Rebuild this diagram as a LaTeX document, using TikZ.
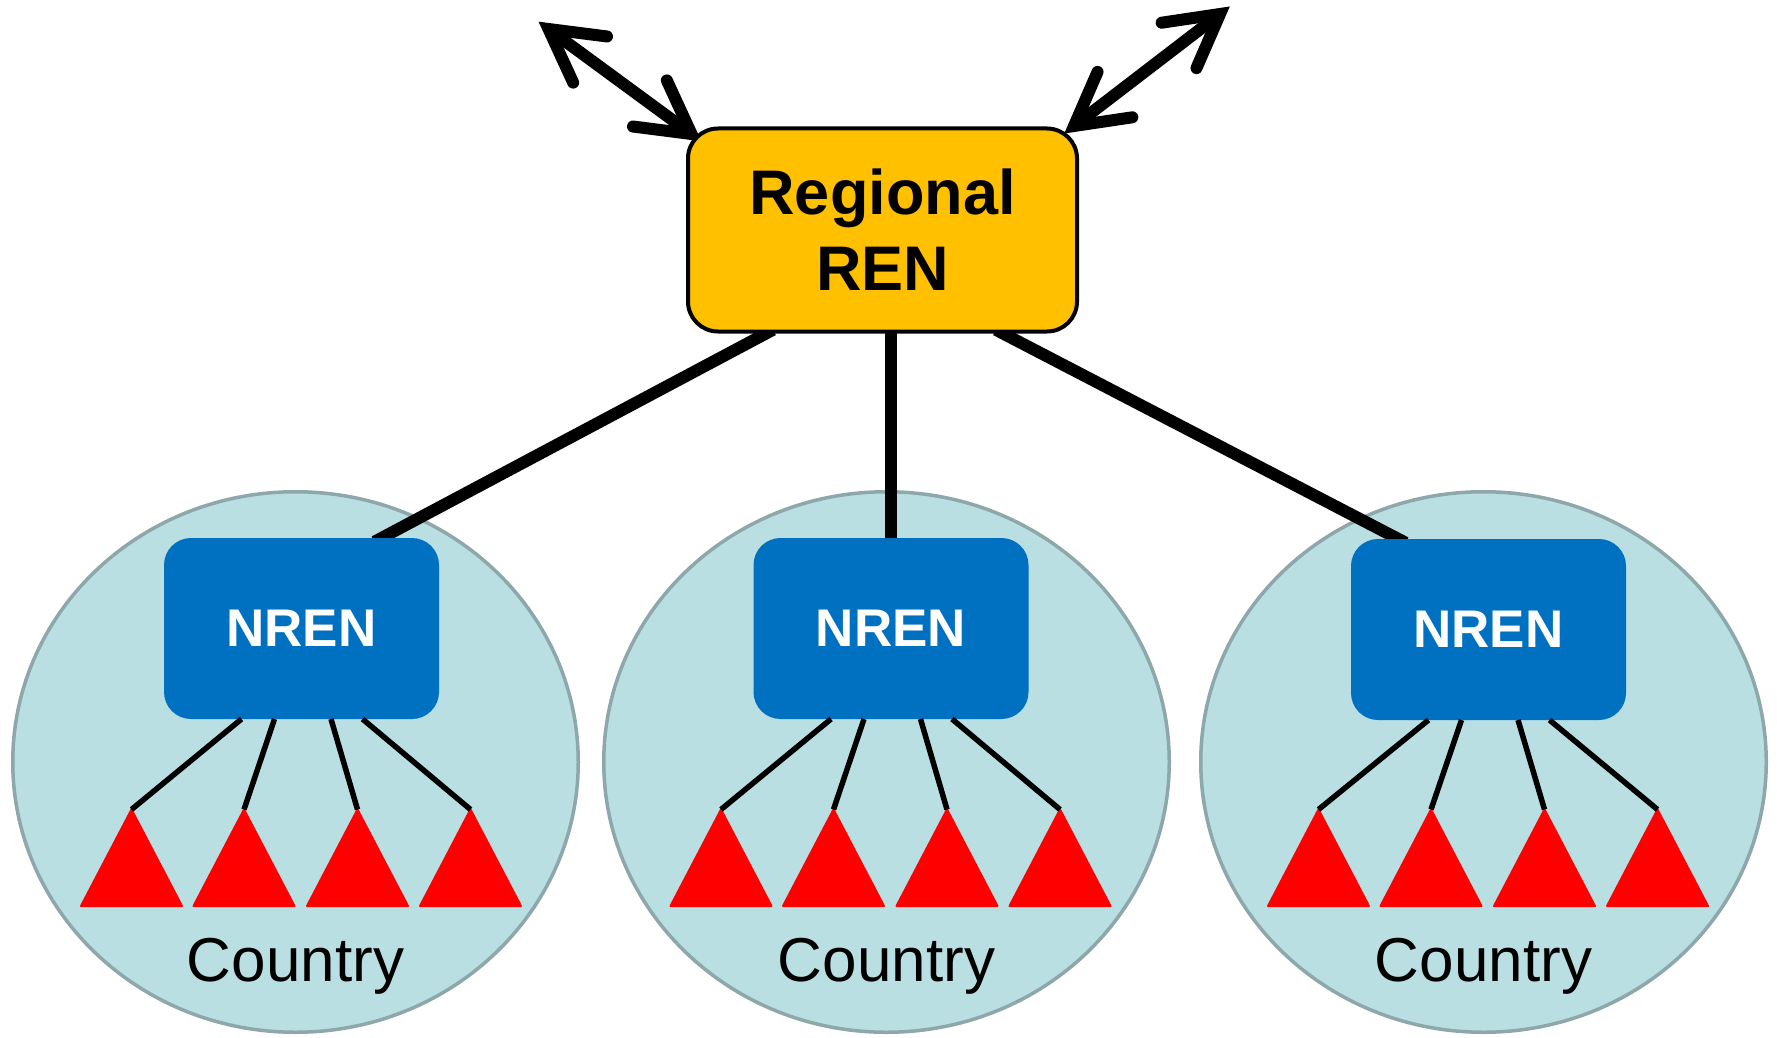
\documentclass[tikz,border=0pt]{standalone}
\usepackage{fontspec}
\setmainfont{Liberation Sans}
\usetikzlibrary{calc,shapes.geometric}
\pgfdeclarelayer{bg}
\pgfsetlayers{bg,main}
\definecolor{regfill}{HTML}{FFC000}
\definecolor{nrenfill}{HTML}{0070C0}
\definecolor{ctyfill}{HTML}{BADFE3}
\definecolor{ctyline}{HTML}{8DA7AA}
\definecolor{trired}{HTML}{FF0000}
\begin{document}
\begin{tikzpicture}[x=1pt,y=-1pt,
  regbox/.style={draw=black, line width=4pt, fill=regfill, rounded corners=30pt,
    minimum width=389pt, minimum height=203pt, inner sep=0pt, align=center,
    font=\fontsize{63}{76}\selectfont\bfseries},
  nrenbox/.style={fill=nrenfill, rounded corners=27pt, minimum width=275pt,
    minimum height=181pt, inner sep=0pt, outer sep=0pt, text=white,
    font=\fontsize{53}{60}\selectfont\bfseries},
  countryshape/.style={ellipse, draw=ctyline, line width=3.5pt, fill=ctyfill,
    minimum width=565.5pt, minimum height=540.5pt, inner sep=0pt},
  countrytext/.style={anchor=base, font=\fontsize{62}{70}\selectfont},
  trunk/.style={line width=12pt, shorten <=-8pt, shorten >=-8pt},
  branch/.style={line width=5.5pt},
  tripath/.style={fill=trired, draw=trired, line width=2pt, line join=round},
  shaft/.style={line width=12pt},
  barbs/.style={line width=12pt, line cap=round, line join=miter}
]
\useasboundingbox (0,0) rectangle (1777,1038);

% external links (drawn first so the box covers the lower tips)
\coordinate (la1) at (548.5,29);
\coordinate (la2) at (691.5,134);
\coordinate (ra1) at (1220,14);
\coordinate (ra2) at (1074,126);
\draw[shaft] (la1) -- (la2);
\draw[barbs] ($(la1)!59pt!29:(la2)$) -- (la1) -- ($(la1)!59pt!-29:(la2)$);
\draw[barbs] ($(la2)!59pt!29:(la1)$) -- (la2) -- ($(la2)!59pt!-29:(la1)$);
\draw[shaft] (ra1) -- (ra2);
\draw[barbs] ($(ra1)!59pt!29:(ra2)$) -- (ra1) -- ($(ra1)!59pt!-29:(ra2)$);
\draw[barbs] ($(ra2)!59pt!29:(ra1)$) -- (ra2) -- ($(ra2)!59pt!-29:(ra1)$);

% regional box
\node[regbox] (reg) at (882.5,230) {Regional\\REN};

\foreach \cx/\ex/\cy/\nm in {301.5/295.5/628.5/a, 891/886.5/628.5/b, 1488.5/1483.5/629.5/c}{
  \begin{pgfonlayer}{bg}
    \node[countryshape] (e\nm) at (\ex,762) {};
  \end{pgfonlayer}
  \node[nrenbox] (n\nm) at (\cx,\cy) {NREN};
  \node[countrytext] (ct\nm) at (\ex,981) {Country};
  \foreach \off/\ax/\i in {-170/-60/1, -57.5/-27/2, 56/29.5/3, 169/61/4}{
    \coordinate (t\nm\i) at (\cx+\off,809.5);
    \fill[tripath] (t\nm\i) -- ++(-50.5,96.5) -- ++(101,0) -- cycle;
    \draw[branch] ($(n\nm.south)+(\ax,0)$) -- (t\nm\i);
  }
}

% trunks beneath the boxes
\begin{pgfonlayer}{bg}
  \draw[trunk] ($(reg.south west)+(80,0)$) -- ($(na.north)+(80,0)$);
  \draw[trunk] (nb.north) -- (nb.north |- reg.south);
  \draw[trunk] ($(reg.south east)+(-76,0)$) -- ($(nc.north)+(-90,0)$);
\end{pgfonlayer}
\end{tikzpicture}
\end{document}
